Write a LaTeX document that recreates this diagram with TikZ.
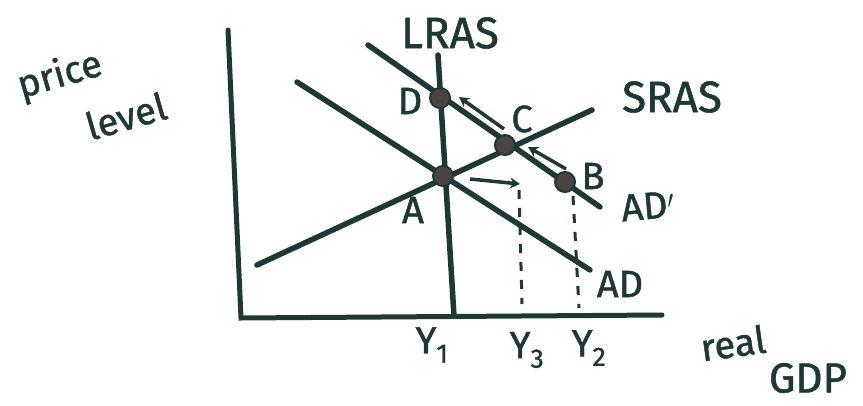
\documentclass[tikz,border=0pt]{standalone}
\usepackage{fontspec}
\setmainfont{Fira Sans}[FakeBold=1.2]
\usetikzlibrary{arrows.meta}
\definecolor{ink}{HTML}{1E3836}
\definecolor{dotfill}{HTML}{4A4440}
\tikzset{
  curve/.style={draw=ink,line width=5.5pt,line cap=round},
  axis/.style={draw=ink,line width=5pt,line cap=round},
  movearrow/.style={draw=ink,line width=3.5pt,-{Stealth[length=10pt,width=11pt]}},
  guide/.style={draw=ink,line width=3pt,dash pattern=on 9pt off 9pt},
  pt/.style={circle,fill=dotfill,draw=ink,line width=2pt,minimum size=20pt,inner sep=0pt},
  lbl/.style={text=ink,inner sep=0pt,font=\fontsize{38}{40}\selectfont},
  biglbl/.style={text=ink,inner sep=0pt,font=\fontsize{44}{46}\selectfont},
}
\begin{document}
\begin{tikzpicture}[x=1pt,y=1pt]
\useasboundingbox[fill=white] (0,0) rectangle (863,405);
% axes (pixel coordinates, y measured from top)
\coordinate (ytop) at (228,405-30);
\coordinate (origin) at (241,405-318);
\coordinate (xend) at (662,405-315);
\draw[axis] (ytop) -- (origin) -- (xend);
% curve end points
\coordinate (lrasT) at (438,405-55);
\coordinate (lrasB) at (454,405-316);
\coordinate (srasL) at (257,405-265);
\coordinate (srasR) at (592,405-110);
\coordinate (adL) at (297,405-82);
\coordinate (adR) at (590,405-270);
\coordinate (adpL) at (368,405-45);
\coordinate (adpR) at (600,405-207);
\draw[curve] (lrasT) -- (lrasB);
\draw[curve] (srasL) -- (srasR);
\draw[curve] (adL) -- (adR);
\draw[curve] (adpL) -- (adpR);
% equilibrium points
\node[pt] (D) at (440,405-98) {};
\node[pt] (C) at (505,405-145) {};
\node[pt] (B) at (565,405-182) {};
\node[pt] (A) at (443,405-176) {};
% dashed guides
\coordinate (g3t) at (519,405-190);
\coordinate (g3b) at (522,405-304);
\coordinate (g2t) at (573,405-196);
\coordinate (g2b) at (579,405-308);
\draw[guide] (g3t) -- (g3b);
\draw[guide] (g2t) -- (g2b);
% movement arrows
\coordinate (c1) at (504,405-129);
\coordinate (d1) at (459,405-97);
\coordinate (b1) at (566,405-169);
\coordinate (c2) at (528,405-147);
\coordinate (a1) at (470,405-179);
\coordinate (s1) at (520,405-184);
\draw[movearrow] (c1) -- (d1);
\draw[movearrow] (b1) -- (c2);
\draw[movearrow] (a1) -- (s1);
% labels
\node[biglbl] (lLRAS) at (450,405-33) {LRAS};
\node[biglbl] (lSRAS) at (672,405-97) {SRAS};
\node[lbl] (lD) at (410,405-101) {D};
\node[lbl] (lC) at (522,405-119) {C};
\node[lbl] (lB) at (593,405-176) {B};
\node[lbl] (lA) at (413,405-210) {A};
\node[lbl,rotate=5] (lADp) at (648,405-206) {AD$'$};
\node[lbl] (lAD) at (620,405-284) {AD};
\node[lbl] (lY1) at (432,405-345) {Y\textsubscript{1}};
\node[lbl] (lY3) at (527,405-350) {Y\textsubscript{3}};
\node[lbl] (lY2) at (589,405-348) {Y\textsubscript{2}};
\node[lbl,rotate=16] (lprice) at (60,405-76) {price};
\node[lbl,rotate=16] (llevel) at (126,405-116) {level};
\node[lbl,rotate=8] (lreal) at (733,405-343) {real};
\node[lbl,font=\fontsize{42}{44}\selectfont] (lGDP) at (808,405-378) {GDP};
\end{tikzpicture}
\end{document}
